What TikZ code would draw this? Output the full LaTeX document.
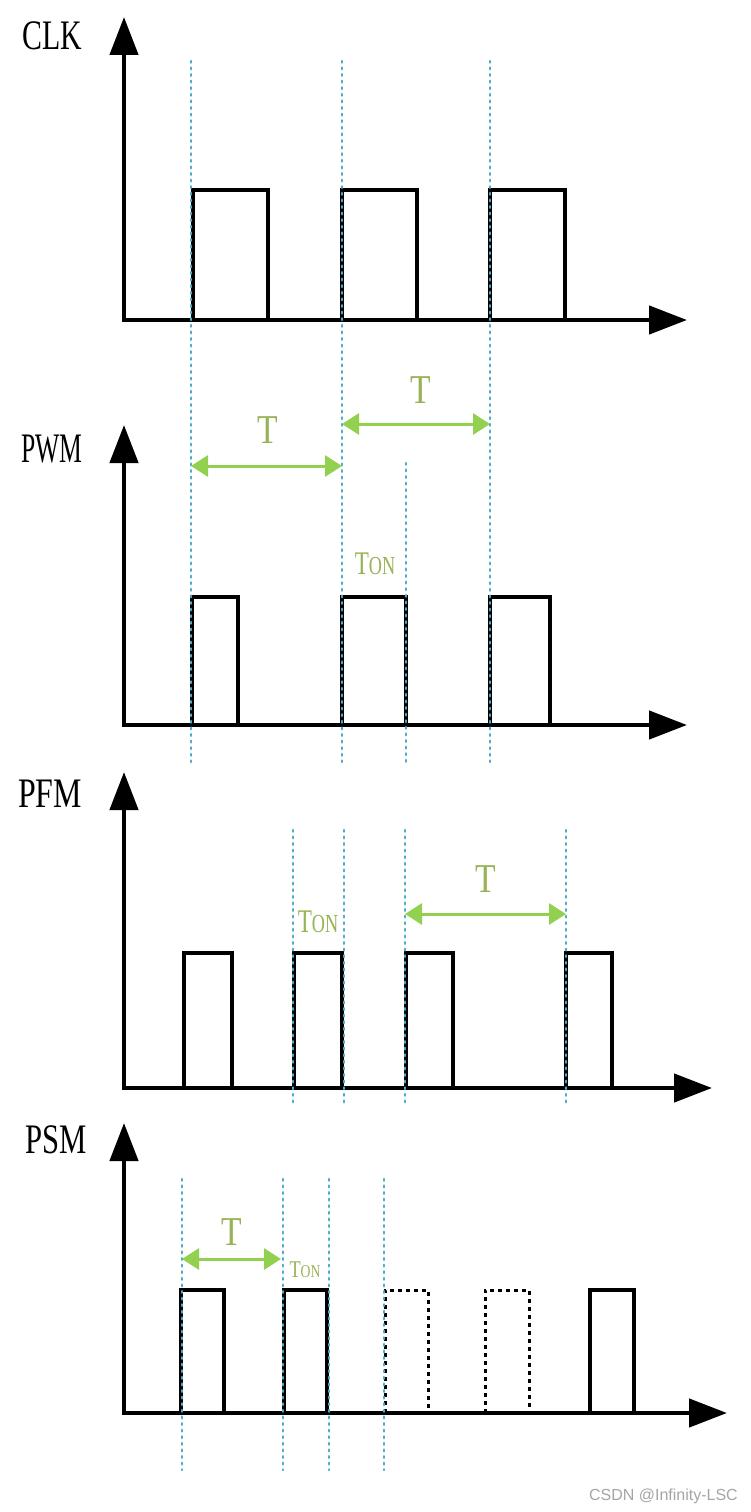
\documentclass[tikz,border=0pt]{standalone}
\usepackage{fontspec}
\setmainfont{Liberation Serif}
\newfontfamily\wmfont{Liberation Sans}
\usetikzlibrary{arrows.meta}
\definecolor{guideblue}{RGB}{75,172,198}
\definecolor{arrgreen}{RGB}{146,208,80}
\definecolor{lblgreen}{RGB}{150,180,85}
\definecolor{wmgray}{RGB}{165,165,165}
\begin{document}
\begin{tikzpicture}[x=1pt,y=-1pt,
  axis/.style={line width=4.5pt,{Triangle[length=38pt,width=28pt]}-{Triangle[length=38pt,width=28pt]}},
  pulse/.style={line width=4pt,line join=miter},
  ghostpulse/.style={line width=3pt,dash pattern=on 4pt off 4pt},
  guide/.style={guideblue,line width=2.6pt,line cap=round,dash pattern=on 1.6pt off 5pt},
  period/.style={arrgreen,line width=3pt,{Triangle[length=17pt,width=21pt]}-{Triangle[length=17pt,width=21pt]}},
  lbl/.style={inner sep=0pt,anchor=base,font=\fontsize{42}{42}\selectfont},
  tlbl/.style={inner sep=0pt,anchor=base,text=lblgreen,font=\fontsize{41}{41}\selectfont,xscale=0.82},
]
\useasboundingbox (0,0) rectangle (750,1512);
\fill[white] (0,0) rectangle (750,1512);

% ---------------- CLK ----------------
\node[lbl,xscale=0.71] (clk) at (52,50) {CLK};
\coordinate (clkY) at (124,17);
\coordinate (clkO) at (124,320);
\coordinate (clkX) at (687,320);
\foreach \a/\b in {193/268,342/417,490/565}
  \draw[pulse] (\a,320) -- (\a,190) -- (\b,190) -- (\b,320);
\draw[axis] (clkY) -- (clkO) -- (clkX);

% ---------------- PWM ----------------
\node[lbl,xscale=0.61] (pwm) at (52,462) {PWM};
\coordinate (pwmY) at (124,425);
\coordinate (pwmO) at (124,725);
\coordinate (pwmX) at (687,725);
\foreach \a/\b in {192/238,342/406,490/550}
  \draw[pulse] (\a,725) -- (\a,597) -- (\b,597) -- (\b,725);
\draw[axis] (pwmY) -- (pwmO) -- (pwmX);

% guides through CLK and PWM
\draw[guide] (191,61) -- (191,762);
\draw[guide] (342,61) -- (342,762);
\draw[guide] (490,61) -- (490,762);
\draw[guide] (406,463) -- (406,762);

\coordinate (pa1) at (191,466);
\coordinate (pa2) at (342,466);
\coordinate (pb1) at (342,424);
\coordinate (pb2) at (490,424);
\draw[period] (pa1) -- (pa2);
\draw[period] (pb1) -- (pb2);
\node[tlbl] (t1) at (268,443) {T};
\node[tlbl] (t2) at (421,403) {T};
\node[inner sep=0pt,anchor=base,text=lblgreen,xscale=0.7] (ton1) at (375,574)
  {{\fontsize{33}{33}\selectfont T}{\fontsize{26}{26}\selectfont ON}};

% ---------------- PFM ----------------
\node[lbl,xscale=0.76] (pfm) at (50,807) {PFM};
\coordinate (pfmY) at (124,772);
\coordinate (pfmO) at (124,1088);
\coordinate (pfmX) at (712,1088);
\foreach \a/\b in {184/232,294/342,406/453,566/612}
  \draw[pulse] (\a,1088) -- (\a,953) -- (\b,953) -- (\b,1088);
\draw[axis] (pfmY) -- (pfmO) -- (pfmX);
\foreach \x in {293,344,405,566}
  \draw[guide] (\x,830) -- (\x,1105);
\coordinate (pc1) at (405,914);
\coordinate (pc2) at (566,914);
\draw[period] (pc1) -- (pc2);
\node[tlbl] (t3) at (486,892) {T};
\node[inner sep=0pt,anchor=base,text=lblgreen,xscale=0.7] (ton2) at (318,932)
  {{\fontsize{33}{33}\selectfont T}{\fontsize{26}{26}\selectfont ON}};

% ---------------- PSM ----------------
\node[lbl,xscale=0.73] (psm) at (56,1153) {PSM};
\coordinate (psmY) at (124,1123);
\coordinate (psmO) at (124,1413);
\coordinate (psmX) at (727,1413);
\foreach \a/\b in {181/224,284/327,590/634}
  \draw[pulse] (\a,1413) -- (\a,1290) -- (\b,1290) -- (\b,1413);
\foreach \a/\b in {385/428,485/529}
  \draw[ghostpulse] (\a,1413) -- (\a,1290) -- (\b,1290) -- (\b,1413);
\draw[axis] (psmY) -- (psmO) -- (psmX);
\foreach \x in {182,283,329,384}
  \draw[guide] (\x,1179) -- (\x,1470);
\coordinate (pd1) at (182,1259);
\coordinate (pd2) at (281,1259);
\draw[period] (pd1) -- (pd2);
\node[tlbl] (t4) at (232,1245) {T};
\node[inner sep=0pt,anchor=base,text=lblgreen,xscale=0.76] (ton3) at (305,1277)
  {{\fontsize{24}{24}\selectfont T}{\fontsize{18}{18}\selectfont ON}};

% watermark
\node[anchor=base east,inner sep=0pt,text=wmgray,font=\wmfont\fontsize{16}{16}\selectfont] (wm) at (738,1500) {CSDN @Infinity-LSC};
\end{tikzpicture}
\end{document}
